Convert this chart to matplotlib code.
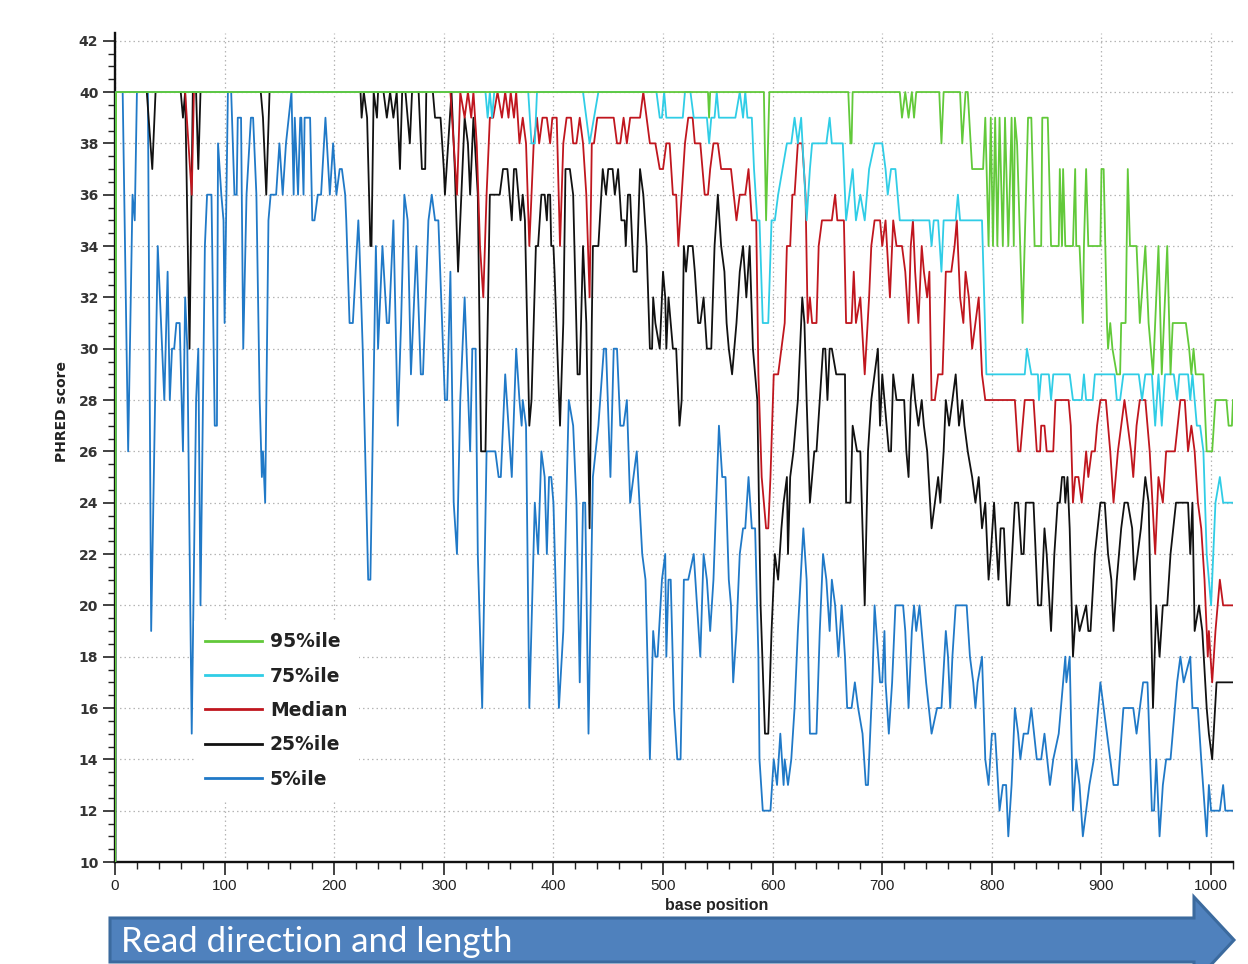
import matplotlib
matplotlib.use("Agg")
import matplotlib.pyplot as plt
from matplotlib.patches import Polygon
from matplotlib.lines import Line2D
from matplotlib.ticker import MultipleLocator

# ---------------- data: (base position, PHRED score) ----------------
green_95 = [(0,0),(1,40),(541,40),(542,39),(543,40),(592,40),(594,35),(597,40),(669,40),(671,38),(672,38),(673,40),
    (716,40),(718,39),(721,40),(724,39),(727,40),(729,39),(731,40),(752,40),(754,38),(756,40),(771,40),(773,38),(776,40),
    (778,40),(782,37),(792,37),(794,39),(797,34),(799,39),(801,34),(803,39),(805,34),(807,39),(810,34),(812,39),(815,34),
    (818,39),(820,34),(821,39),(823,38),(828,31),(833,39),(836,39),(839,34),(845,34),(846,39),(851,39),(854,34),(861,34),
    (862,37),(864,34),(865,37),(867,34),(874,34),(876,37),(877,34),(880,34),(883,31),(884,34),(886,37),(888,34),(899,34),
    (900,37),(902,37),(905,31),(906,30),(908,31),(910,30),(914,29),(917,29),(918,31),(922,31),(924,37),(926,34),(932,34),
    (935,31),(940,34),(943,31),(947,29),(950,32),(952,34),(955,29),(960,34),(963,29),(965,31),(977,31),(980,30),(982,29),
    (984,30),(986,29),(993,29),(996,26),(1001,26),(1004,28),(1014,28),(1016,27),(1019,27),(1020,28)]

cyan_75 = [(0,0),(1,40),(338,40),(340,39),(342,40),(344,39),(346,40),(377,40),(380,38),(383,38),(385,40),(427,40),(430,39),
    (433,38),(437,39),(441,40),(494,40),(497,39),(499,39),(501,40),(503,39),(518,39),(520,40),(525,40),(528,39),(540,39),
    (542,38),(544,39),(547,39),(549,40),(551,39),(566,39),(570,40),(573,39),(575,40),(577,39),(581,39),(583,37),(586,35),
    (588,35),(591,31),(596,31),(599,35),(602,35),(605,36),(609,37),(613,38),(617,38),(620,39),(623,38),(626,39),(631,35),
    (634,37),(636,38),(649,38),(652,39),(654,38),(664,38),(667,35),(670,36),(673,37),(676,35),(680,36),(684,35),(688,37),
    (693,38),(700,38),(703,37),(705,36),(708,37),(712,37),(716,35),(743,35),(745,34),(747,35),(751,35),(754,33),(756,35),
    (767,35),(769,36),(771,35),(791,35),(795,29),(830,29),(832,30),(836,29),(842,29),(843,28),(845,29),(852,29),(854,28),
    (856,29),(871,29),(874,28),(882,28),(884,29),(886,28),(892,28),(894,29),(912,29),(914,28),(917,28),(920,29),(934,29),
    (937,28),(940,29),(946,29),(949,27),(952,29),(955,27),(958,29),(966,29),(969,28),(971,29),(979,29),(981,28),(983,29),
    (987,27),(990,27),(993,26),(996,22),(998,21),(1000,20),(1002,22),(1004,24),(1008,25),(1011,24),(1020,24)]

red_median = [(0,0),(1,40),(64,40),(67,38),(70,36),(72,40),(306,40),(309,38),(312,36),(315,40),(319,39),(322,40),(325,39),
    (327,40),(330,38),(333,34),(336,32),(339,36),(342,39),(345,39),(349,40),(353,39),(356,40),(359,39),(361,40),(364,39),
    (366,40),(369,38),(372,39),(375,38),(378,34),(380,36),(382,38),(385,39),(387,38),(390,39),(394,39),(397,38),(399,39),
    (403,39),(406,34),(409,38),(412,39),(416,39),(418,38),(421,38),(424,39),(427,38),(430,36),(433,32),(435,38),(437,38),
    (440,39),(455,39),(458,38),(461,38),(464,39),(467,38),(470,39),(479,39),(482,40),(485,39),(488,38),(493,38),(497,37),
    (500,37),(503,38),(506,38),(509,36),(512,36),(514,34),(517,36),(520,38),(523,39),(527,39),(529,38),(534,38),(538,36),
    (541,36),(543,37),(546,38),(550,38),(553,37),(562,37),(567,35),(570,36),(575,36),(578,37),(581,35),(585,35),(587,29),
    (590,25),(594,23),(596,23),(598,25),(601,29),(605,29),(611,31),(613,34),(616,34),(618,36),(620,36),(623,38),(627,38),
    (630,36),(632,31),(634,32),(636,31),(640,31),(642,34),(645,35),(649,35),(654,35),(657,36),(659,35),(665,35),(667,31),
    (672,31),(674,33),(676,31),(680,32),(684,29),(688,32),(690,34),(693,35),(698,35),(700,34),(703,35),(707,32),(710,35),
    (713,34),(718,34),(721,33),(724,31),(726,34),(728,35),(730,33),(733,31),(736,34),(738,33),(741,32),(743,33),(745,28),
    (748,28),(751,29),(755,29),(758,33),(763,33),(766,34),(768,35),(771,32),(774,31),(776,33),(779,32),(782,30),(785,31),
    (788,32),(791,29),(794,28),(821,28),(824,26),(826,26),(830,28),(838,28),(841,26),(844,26),(845,27),(848,27),(850,26),
    (856,26),(858,28),(870,28),(872,27),(874,24),(876,25),(879,25),(882,24),(884,25),(886,26),(888,25),(891,26),(894,26),
    (896,27),(899,28),(904,28),(906,27),(908,26),(911,24),(915,26),(918,27),(921,28),(924,27),(927,26),(929,25),(932,27),
    (935,28),(940,28),(944,26),(949,22),(952,25),(956,24),(959,26),(967,26),(972,28),(976,28),(979,26),(982,27),(985,26),
    (988,24),(991,23),(994,21),(997,18),(998,19),(1001,17),(1004,19),(1008,21),(1011,20),(1020,20)]

black_25 = [(0,0),(1,40),(29,40),(34,37),(37,40),(60,40),(62,39),(64,40),(68,30),(71,40),(74,40),(76,37),(78,40),(133,40),
    (135,39),(138,36),(141,40),(224,40),(225,39),(227,40),(230,39),(233,34),(234,34),(236,40),(239,39),(240,40),(245,40),
    (248,39),(251,40),(254,39),(257,40),(260,37),(262,40),(265,40),(269,38),(271,40),(277,40),(280,37),(283,37),(284,40),
    (290,40),(292,39),(294,39),(297,39),(300,37),(301,36),(304,38),(307,40),(310,37),(313,33),(316,36),(319,39),(322,38),
    (324,36),(327,39),(331,36),(334,26),(338,26),(342,36),(351,36),(354,37),(358,37),(362,35),(364,37),(366,37),(368,36),
    (370,35),(372,36),(374,35),(378,27),(380,28),(382,31),(384,34),(386,34),(389,36),(392,36),(394,35),(395,36),(397,36),
    (398,34),(400,34),(401,33),(406,27),(409,31),(411,37),(415,37),(418,36),(422,29),(424,29),(427,34),(430,31),(433,23),
    (435,31),(436,34),(441,34),(445,37),(448,36),(450,37),(454,37),(456,36),(459,37),(462,35),(465,35),(466,34),(468,36),
    (470,36),(473,33),(476,33),(479,37),(482,36),(485,34),(488,30),(490,30),(491,32),(493,31),(497,30),(500,33),(502,32),
    (503,30),(505,32),(507,31),(509,30),(512,30),(515,27),(517,28),(519,34),(521,33),(523,34),(527,34),(529,33),(532,31),
    (534,31),(537,32),(540,30),(544,30),(547,34),(550,36),(553,34),(556,33),(558,31),(560,30),(563,29),(565,30),(567,31),
    (570,33),(573,34),(576,32),(579,34),(582,30),(584,29),(586,28),(589,20),(593,15),(596,15),(599,19),(602,22),(605,21),
    (608,23),(610,24),(613,25),(614,22),(616,25),(619,26),(623,28),(627,32),(629,31),(631,28),(634,24),(638,26),(640,26),
    (643,28),(646,30),(648,30),(650,28),(652,30),(654,30),(658,29),(666,29),(667,24),(671,24),(673,27),(677,26),(680,26),
    (684,20),(687,26),(690,28),(693,29),(696,30),(698,27),(700,29),(702,28),(706,26),(708,26),(710,29),(713,28),(716,28),
    (720,28),(722,26),(724,25),(726,28),(728,29),(730,28),(733,27),(736,28),(738,27),(741,26),(745,23),(748,24),(751,25),
    (753,24),(756,26),(758,28),(761,27),(764,28),(767,29),(770,27),(773,28),(775,27),(778,26),(782,25),(785,24),(788,25),
    (791,23),(794,24),(797,21),(799,22),(802,24),(806,21),(808,23),(811,23),(814,20),(816,20),(821,24),(824,24),(827,22),
    (829,22),(831,24),(838,24),(842,20),(845,20),(848,23),(850,22),(854,19),(857,22),(860,24),(862,24),(864,25),(866,25),
    (867,24),(869,25),(871,23),(874,18),(877,20),(880,19),(886,20),(888,19),(890,19),(894,22),(899,24),(903,24),(906,22),
    (909,21),(911,19),(914,21),(918,23),(921,24),(924,24),(928,23),(930,21),(933,22),(936,23),(940,25),(943,24),(947,16),
    (950,20),(953,18),(956,20),(960,20),(963,22),(968,24),(979,24),(981,22),(983,24),(985,19),(989,20),(992,19),(996,16),
    (998,15),(1001,14),(1005,17),(1020,17)]

blue_5 = [(0,0),(1,40),(7,40),(12,26),(16,36),(18,35),(20,40),(30,40),(33,19),(39,34),(45,28),(48,33),(50,28),(52,30),
    (54,30),(56,31),(59,31),(62,26),(64,32),(66,30),(70,15),(74,28),(76,30),(78,20),(82,34),(84,36),(88,36),(91,27),(93,27),
    (94,38),(97,36),(99,35),(100,31),(103,40),(106,40),(109,36),(111,36),(112,39),(115,39),(117,30),(120,36),(124,39),
    (126,39),(129,36),(132,28),(134,25),(135,26),(137,24),(140,35),(142,36),(147,36),(150,38),(153,36),(156,38),(161,40),
    (163,36),(164,39),(167,36),(169,39),(170,39),(172,36),(173,39),(178,39),(180,35),(182,35),(185,36),(188,36),(192,39),
    (196,36),(199,38),(202,36),(205,37),(207,37),(210,36),(211,35),(214,31),(217,31),(222,35),(223,34),(226,30),(231,21),
    (233,21),(238,34),(240,30),(244,34),(248,31),(250,31),(254,35),(255,33),(258,27),(261,31),(264,36),(267,35),(270,29),
    (275,34),(279,29),(281,29),(286,35),(289,36),(292,35),(295,35),(301,28),(303,28),(306,33),(309,24),(312,22),(315,28),
    (319,32),(324,26),(326,30),(329,30),(331,22),(335,16),(339,26),(347,26),(350,25),(352,25),(356,29),(359,27),(362,25),
    (366,30),(369,28),(371,27),(372,28),(375,27),(378,16),(383,24),(386,22),(389,26),(392,25),(394,22),(396,25),(398,25),
    (400,24),(405,16),(409,19),(414,28),(418,27),(421,24),(424,17),(427,24),(429,24),(432,15),(436,25),(441,27),(446,30),
    (448,30),(452,25),(455,30),(458,30),(461,27),(464,27),(467,28),(470,24),(473,25),(476,26),(481,22),(484,21),(488,14),
    (491,19),(493,18),(495,18),(499,21),(502,22),(503,18),(505,21),(507,21),(510,16),(513,14),(516,14),(519,21),(523,21),
    (528,22),(531,20),(534,18),(537,22),(540,21),(543,19),(546,21),(551,27),(554,25),(557,25),(560,21),(562,20),(564,17),
    (567,19),(570,22),(573,23),(575,23),(578,25),(581,23),(584,23),(587,18),(588,14),(591,12),(598,12),(601,14),(604,13),
    (607,15),(610,13),(611,14),(614,13),(617,14),(620,16),(623,19),(628,23),(631,21),(634,15),(640,15),(643,19),(646,22),
    (649,21),(652,19),(654,21),(657,20),(660,18),(663,20),(666,18),(668,16),(672,16),(675,17),(678,16),(682,15),(685,13),
    (687,13),(689,15),(691,17),(693,20),(698,17),(700,17),(702,19),(703,17),(706,15),(709,17),(712,20),(719,20),(721,19),
    (724,16),(727,19),(729,20),(731,19),(734,20),(736,19),(738,18),(740,17),(745,15),(750,16),(754,16),(758,19),(760,18),
    (762,16),(764,18),(767,20),(777,20),(780,18),(783,17),(785,16),(787,17),(791,18),(794,14),(797,13),(800,15),(803,15),
    (807,12),(810,13),(813,13),(815,11),(818,13),(821,16),(824,15),(826,14),(829,15),(833,15),(836,16),(841,14),(845,14),
    (848,15),(853,13),(856,14),(861,15),(867,18),(868,17),(871,18),(874,12),(877,14),(880,13),(883,11),(886,12),(889,13),
    (893,14),(897,16),(899,17),(902,16),(905,15),(908,14),(911,13),(915,13),(920,16),(929,16),(932,15),(935,16),(938,17),
    (942,17),(946,12),(948,12),(950,14),(953,11),(956,13),(959,14),(963,14),(969,17),(972,18),(975,17),(981,18),(983,16),
    (988,16),(991,14),(996,11),(998,13),(1000,12),(1008,12),(1011,13),(1013,12),(1020,12)]

series_labels = ["95%ile", "75%ile", "Median", "25%ile", "5%ile"]
series_colors = ["#62C93A", "#30CDE6", "#C0161E", "#111111", "#2079C7"]
series_data = [green_95, cyan_75, red_median, black_25, blue_5]

x_ticks = list(range(0, 1001, 100))
y_ticks = list(range(10, 43, 2))

# ---------------- figure ----------------
W, H = 1248, 964
fig = plt.figure(figsize=(W / 100, H / 100), dpi=100)
ax = fig.add_axes([115 / W, 1 - 862 / H, (1233 - 115) / W, (862 - 33) / H])
ax.set_xlim(0, 1020)
ax.set_ylim(10, 42.3)

# draw from bottom series up, 95%ile on top
for data, col, lab in list(zip(series_data, series_colors, series_labels))[::-1]:
    xs = [p[0] for p in data]
    ys = [p[1] for p in data]
    ax.plot(xs, ys, color=col, lw=1.3, label=lab, zorder=3)

ax.set_axisbelow(True)
ax.grid(True, which="major", color="#b5b5b5", linestyle=(0, (1.2, 2.4)), linewidth=0.9)
for s in ("top", "right"):
    ax.spines[s].set_visible(False)
for s in ("left", "bottom"):
    ax.spines[s].set_linewidth(1.7)
    ax.spines[s].set_color("#111111")

ax.set_xticks(x_ticks)
ax.set_yticks(y_ticks)
ax.xaxis.set_minor_locator(MultipleLocator(20))
ax.yaxis.set_minor_locator(MultipleLocator(0.5))
ax.tick_params(axis="both", which="major", direction="out", length=9, width=1.2, color="#222222")
ax.tick_params(axis="both", which="minor", direction="out", length=5, width=1.0, color="#222222")
ax.tick_params(axis="y", which="major", pad=3)
ax.tick_params(axis="x", which="major", pad=3)

ax.set_xticklabels([str(t) for t in x_ticks], family="Liberation Sans", fontsize=11, color="#222222")
ax.set_yticklabels([str(t) for t in y_ticks], family="DejaVu Sans", fontweight="bold", fontsize=10, color="#333333")

ax.set_xlabel("base position", family="Liberation Sans", fontweight="bold", fontsize=11.5, color="#222222")
ax.xaxis.set_label_coords((717 - 115) / 1118, (862 - 898) / 829)
ax.set_ylabel("PHRED score", family="DejaVu Sans", fontweight="bold", fontsize=10, color="#222222")
ax.yaxis.set_label_coords((69 - 115) / 1118, (862 - 412) / 829)

handles = [Line2D([0], [0], color=c, lw=2.0) for c in series_colors]
leg = ax.legend(handles, series_labels, loc="upper left",
                bbox_to_anchor=((194 - 115) / 1118, (862 - 621) / 829),
                frameon=True, facecolor="white", edgecolor="none", framealpha=1, fancybox=False,
                prop={"weight": "bold", "size": 13.5, "family": "DejaVu Sans"},
                handlelength=3.0, handletextpad=0.45, labelspacing=0.82, borderpad=0.6, borderaxespad=0)
leg.set_zorder(5)
for t in leg.get_texts():
    t.set_color("#222222")

# ---------------- direction arrow (figure decoration) ----------------
def fp(px, py):
    return (px / W, 1 - py / H)

arrow_pts = [fp(110, 918), fp(1194, 918), fp(1194, 897), fp(1234, 940), fp(1194, 983), fp(1194, 962), fp(110, 962)]
arrow = Polygon(arrow_pts, closed=True, transform=fig.transFigure, facecolor="#4F81BD",
                edgecolor="#3B6A9E", linewidth=2.2, clip_on=False, zorder=10)
fig.patches.append(arrow)
fig.text(121 / W, 1 - 942 / H, "Read direction and length", color="white", fontsize=25,
         family=["Lato", "DejaVu Sans"], va="center", ha="left", zorder=11)

fig.savefig("out.png", dpi=100, facecolor="white")
